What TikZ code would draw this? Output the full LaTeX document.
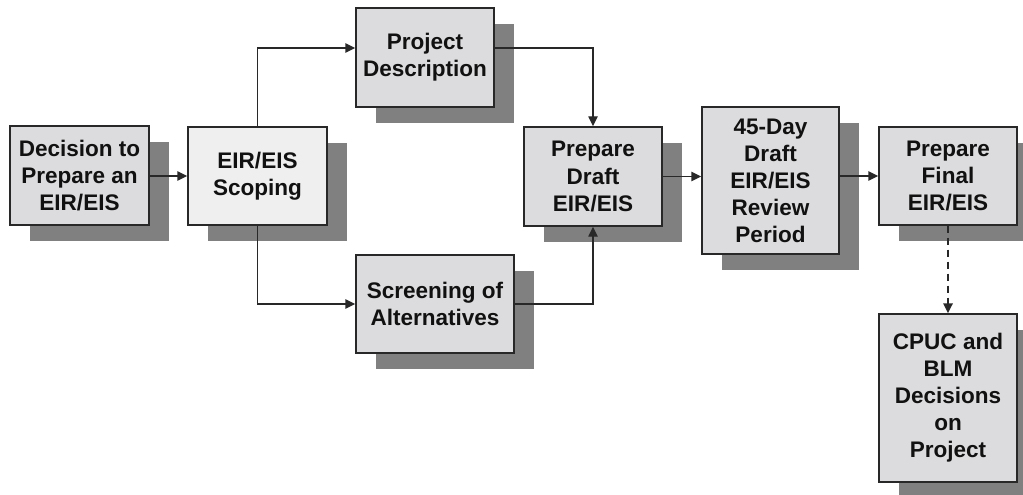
\documentclass[tikz,border=0pt]{standalone}
\usepackage{fontspec}
\setmainfont{Liberation Sans}
\usetikzlibrary{calc,shadows,arrows.meta}
\definecolor{boxfill}{RGB}{220,220,222}
\definecolor{boxlight}{RGB}{239,239,239}
\definecolor{shadowc}{RGB}{128,128,128}
\definecolor{edgec}{RGB}{40,40,40}
\definecolor{txt}{RGB}{17,17,17}
\tikzset{
  stagebox/.style={draw=edgec, line width=1.1pt, fill=boxfill, align=center,
    inner sep=0pt, text=txt,
    font=\fontsize{16.9}{20.3}\selectfont\bfseries,
    drop shadow={shadow xshift=15pt, shadow yshift=-12pt, fill=shadowc, opacity=1}},
  lightbox/.style={stagebox, fill=boxlight},
  conn/.style={draw=edgec, line width=1.1pt, -{Triangle[length=7.5pt,width=7pt]}},
  dashconn/.style={conn, line width=1.6pt, dash pattern=on 5.5pt off 3.5pt},
}
\begin{document}
\begin{tikzpicture}[x=0.75pt,y=-0.75pt]
\useasboundingbox (0,0) rectangle (1023,495);
\clip (0,0) rectangle (1023,495);
\node[stagebox, minimum width=104.25pt, minimum height=74.25pt] (dec) at (79.5,175.5) {Decision to\\Prepare an\\EIR/EIS};
\node[lightbox, minimum width=104.25pt, minimum height=73.5pt] (scope) at (257.5,176) {EIR/EIS\\Scoping};
\node[stagebox, minimum width=103.5pt, minimum height=74.25pt] (proj) at (425,57.5) {Project\\Description};
\node[stagebox, minimum width=118.5pt, minimum height=73.5pt] (screen) at (435,304) {Screening of\\Alternatives};
\node[stagebox, minimum width=103.5pt, minimum height=74.25pt] (draft) at (593,176.5) {Prepare\\Draft\\EIR/EIS};
\node[stagebox, minimum width=102.75pt, minimum height=110.25pt] (review) at (770.5,180.5) {45-Day\\Draft\\EIR/EIS\\Review\\Period};
\node[stagebox, minimum width=103.5pt, minimum height=73.5pt] (final) at (948,176) {Prepare\\Final\\EIR/EIS};
\node[stagebox, minimum width=103.5pt, minimum height=126pt] (cpuc) at (948,398) {CPUC and\\BLM\\Decisions\\on\\Project};

\draw[conn] (dec.east |- scope.west) -- (scope.west);
\draw[conn] (scope.north) |- ($(proj.west)+(0,-9.5)$);
\draw[conn] ($(proj.east)+(0,-9.5)$) -| (draft.north);
\draw[conn] (scope.south) |- (screen.west);
\draw[conn] (screen.east) -| (draft.south);
\draw[conn] (draft.east) -- (draft.east -| review.west);
\draw[conn] (review.east |- final.west) -- (final.west);
\draw[dashconn] (final.south) -- (cpuc.north);
\end{tikzpicture}
\end{document}
